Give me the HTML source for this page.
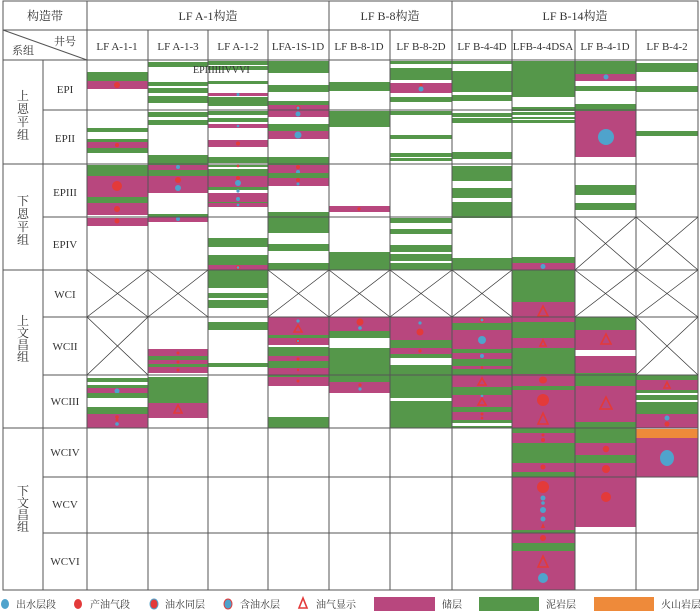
<!DOCTYPE html>
<html><head><meta charset="utf-8"><style>
html,body{margin:0;padding:0;background:#fff;}
svg{display:block;}
.g{fill:#55974a}.m{fill:#b8477e}.o{fill:#ee8a3a}.w{fill:#fff}
.b{fill:#4fa3cc}.r{fill:#e33a3a}
.t{fill:none;stroke:#e33a3a;stroke-width:1.6}
.ring{fill:#4fa3cc;stroke:#e33a3a;stroke-width:1}
.ln{stroke:#555;stroke-width:1;fill:none}
.x{stroke:#333;stroke-width:0.7;fill:none}
text{font-family:"Liberation Serif","Noto Serif CJK SC",serif;fill:#333;}
</style></head><body>
<svg width="700" height="614" viewBox="0 0 700 614" xmlns="http://www.w3.org/2000/svg">
<rect width="700" height="614" fill="#fff"/>

<!-- col1 LFA-1-1 87-148 -->
<g transform="translate(87,0)">
<rect class="g" x="0" y="72" width="61" height="9"/><rect class="m" x="0" y="81" width="61" height="8"/><circle class="r" cx="30" cy="85" r="3"/>
<rect class="g" x="0" y="128" width="61" height="4"/><rect class="g" x="0" y="139" width="61" height="3"/><rect class="m" x="0" y="142" width="61" height="6"/><circle class="r" cx="30" cy="145" r="2"/><rect class="g" x="0" y="148" width="61" height="5"/>
<rect class="g" x="0" y="165" width="61" height="11"/><rect class="m" x="0" y="176" width="61" height="21"/><circle class="r" cx="30" cy="186" r="5"/>
<rect class="g" x="0" y="197" width="61" height="6"/><rect class="m" x="0" y="203" width="61" height="12"/><circle class="r" cx="30" cy="209" r="3"/>
<rect class="m" x="0" y="218" width="61" height="8"/><circle class="r" cx="30" cy="221" r="2.5"/>
<rect class="g" x="0" y="378" width="61" height="4"/><rect class="g" x="0" y="385" width="61" height="3"/><rect class="m" x="0" y="388" width="61" height="5"/><circle class="b" cx="30" cy="391" r="2.5"/><rect class="g" x="0" y="393" width="61" height="5"/>
<rect class="g" x="0" y="407" width="61" height="7"/><rect class="m" x="0" y="414" width="61" height="14"/><circle class="r" cx="30" cy="417" r="1.8"/><circle class="r" cx="30" cy="420" r="1.5"/><circle class="b" cx="30" cy="424" r="1.8"/>
</g>
<!-- col2 LFA-1-3 148-208 -->
<g transform="translate(148,0)">
<rect class="g" x="0" y="62" width="60" height="5"/><rect class="g" x="0" y="82" width="60" height="4"/><rect class="g" x="0" y="88" width="60" height="5"/><rect class="g" x="0" y="96" width="60" height="7"/>
<rect class="g" x="0" y="112" width="60" height="5"/><rect class="g" x="0" y="120" width="60" height="5"/><rect class="g" x="0" y="155" width="60" height="10"/>
<rect class="m" x="0" y="165" width="60" height="5"/><circle class="b" cx="30" cy="167" r="2"/><rect class="g" x="0" y="170" width="60" height="6"/>
<rect class="m" x="0" y="176" width="60" height="17"/><circle class="r" cx="30" cy="180" r="3"/><circle class="b" cx="30" cy="188" r="3"/>
<rect class="g" x="0" y="214" width="60" height="3"/><rect class="m" x="0" y="217" width="60" height="5"/><circle class="b" cx="30" cy="219" r="2"/>
<rect class="m" x="0" y="349" width="60" height="24"/><rect class="g" x="0" y="356" width="60" height="4"/><rect class="g" x="0" y="364" width="60" height="3"/>
<circle class="r" cx="30" cy="353" r="1.5"/><circle class="r" cx="30" cy="362" r="1.5"/><circle class="r" cx="30" cy="370" r="1.5"/>
<rect class="g" x="0" y="377" width="60" height="26"/><rect class="m" x="0" y="403" width="60" height="15"/><polygon class="t" points="30,405 26,413 34,413"/>
</g>
<!-- col3 LFA-1-2 208-268 -->
<g transform="translate(208,0)">
<rect class="g" x="0" y="61" width="60" height="4"/><rect class="g" x="0" y="66" width="60" height="4"/><rect class="g" x="0" y="81" width="60" height="3"/>
<rect class="m" x="0" y="93" width="60" height="3"/><circle class="b" cx="30" cy="94.5" r="1.5"/><rect class="g" x="0" y="97" width="60" height="9"/>
<rect class="g" x="0" y="111" width="60" height="4"/><rect class="g" x="0" y="118" width="60" height="4"/><rect class="m" x="0" y="124" width="60" height="4"/><circle class="b" cx="30" cy="126" r="1.3"/>
<rect class="m" x="0" y="140" width="60" height="7"/><circle class="r" cx="30" cy="143.5" r="2"/><rect class="g" x="0" y="157" width="60" height="6"/>
<rect class="g" x="0" y="165" width="60" height="2"/><circle class="r" cx="30" cy="166" r="1.3"/><rect class="g" x="0" y="169" width="60" height="7"/>
<rect class="m" x="0" y="176" width="60" height="11"/><circle class="r" cx="30" cy="178" r="2"/><circle class="b" cx="30" cy="183" r="3"/><rect class="g" x="0" y="187" width="60" height="3"/>
<rect class="m" x="0" y="193" width="60" height="9"/><circle class="b" cx="30" cy="191" r="1.6"/><circle class="b" cx="30" cy="199" r="2"/><rect class="g" x="0" y="202" width="60" height="1"/>
<rect class="m" x="0" y="203" width="60" height="4"/><circle class="b" cx="30" cy="205" r="1.3"/>
<rect class="g" x="0" y="238" width="60" height="9"/><rect class="g" x="0" y="255" width="60" height="10"/><rect class="m" x="0" y="265" width="60" height="5"/><circle class="ring" cx="30" cy="267.5" r="1.8"/>
<rect class="g" x="0" y="270" width="60" height="18"/><rect class="g" x="0" y="293" width="60" height="5"/><rect class="g" x="0" y="300" width="60" height="8"/><rect class="g" x="0" y="322" width="60" height="8"/><rect class="g" x="0" y="363" width="60" height="4"/>
</g>
<!-- col4 LFA-1S-1D 268-329 -->
<g transform="translate(268,0)">
<rect class="g" x="0" y="61" width="61" height="12"/><rect class="g" x="0" y="85" width="61" height="7"/><rect class="g" x="0" y="101" width="61" height="4"/>
<rect class="m" x="0" y="105" width="61" height="5"/><circle class="ring" cx="30" cy="108" r="2"/>
<rect class="m" x="0" y="110" width="61" height="7"/><circle class="b" cx="30" cy="114" r="2.5"/><rect class="g" x="0" y="124" width="61" height="7"/>
<rect class="m" x="0" y="131" width="61" height="8"/><circle class="b" cx="30" cy="135" r="3.5"/><rect class="g" x="0" y="157" width="61" height="8"/>
<rect class="m" x="0" y="165" width="61" height="8"/><circle class="r" cx="30" cy="167" r="2"/><circle class="b" cx="30" cy="172" r="2"/><rect class="g" x="0" y="173" width="61" height="5"/>
<rect class="m" x="0" y="178" width="61" height="8"/><circle class="r" cx="30" cy="180" r="2"/><circle class="b" cx="30" cy="184" r="1.5"/>
<rect class="g" x="0" y="212" width="61" height="6"/><rect class="g" x="0" y="218" width="61" height="15"/><rect class="g" x="0" y="244" width="61" height="7"/><rect class="g" x="0" y="263" width="61" height="7"/>
<rect class="m" x="0" y="317" width="61" height="18"/><circle class="b" cx="30" cy="321" r="1.6"/><polygon class="t" points="30,325 26,332 34,332"/>
<rect class="g" x="0" y="335" width="61" height="3"/><rect class="m" x="0" y="338" width="61" height="7"/><circle class="ring" cx="30" cy="341" r="1.6"/>
<rect class="g" x="0" y="347" width="61" height="9"/><rect class="m" x="0" y="356" width="61" height="5"/><circle class="r" cx="30" cy="359" r="1.5"/>
<rect class="g" x="0" y="361" width="61" height="7"/><rect class="m" x="0" y="368" width="61" height="9"/><circle class="r" cx="30" cy="370" r="1.2"/>
<rect class="g" x="0" y="375" width="61" height="2"/><rect class="m" x="0" y="377" width="61" height="9"/><circle class="r" cx="30" cy="381" r="1.5"/>
<rect class="g" x="0" y="417" width="61" height="11"/>
</g>
<!-- col5 LFB-8-1D 329-390 -->
<g transform="translate(329,0)">
<rect class="g" x="0" y="82" width="61" height="9"/><rect class="g" x="0" y="111" width="61" height="16"/>
<rect class="m" x="0" y="206" width="61" height="6"/><circle class="r" cx="30" cy="209" r="1.6"/>
<rect class="g" x="0" y="252" width="61" height="18"/>
<rect class="m" x="0" y="317" width="61" height="14"/><circle class="r" cx="31" cy="322" r="3.5"/><circle class="b" cx="31" cy="328" r="1.8"/>
<rect class="g" x="0" y="331" width="61" height="7"/><rect class="g" x="0" y="348" width="61" height="34"/>
<rect class="m" x="0" y="382" width="61" height="11"/><circle class="r" cx="31" cy="385" r="1.6"/><circle class="b" cx="31" cy="389" r="1.6"/>
</g>
<!-- col6 LFB-8-2D 390-452 -->
<g transform="translate(390,0)">
<rect class="g" x="0" y="61" width="62" height="3"/><rect class="g" x="0" y="68" width="62" height="12"/><rect class="m" x="0" y="83" width="62" height="10"/><circle class="r" cx="31" cy="85" r="1.5"/><circle class="b" cx="31" cy="89" r="2.5"/>
<rect class="g" x="0" y="97" width="62" height="5"/>
<rect class="g" x="0" y="111" width="62" height="4"/><rect class="g" x="0" y="135" width="62" height="4"/><rect class="g" x="0" y="153" width="62" height="4"/><rect class="g" x="0" y="158" width="62" height="3"/>
<rect class="g" x="0" y="218" width="62" height="5"/><rect class="g" x="0" y="229" width="62" height="5"/><rect class="g" x="0" y="245" width="62" height="7"/><rect class="g" x="0" y="254" width="62" height="7"/><rect class="g" x="0" y="263" width="62" height="7"/>
<rect class="m" x="0" y="317" width="62" height="23"/><circle class="b" cx="30" cy="323" r="1.6"/><circle class="r" cx="30" cy="332" r="3.5"/>
<rect class="g" x="0" y="340" width="62" height="8"/><rect class="m" x="0" y="348" width="62" height="6"/><circle class="r" cx="30" cy="351" r="1.6"/><rect class="g" x="0" y="354" width="62" height="4"/>
<rect class="g" x="0" y="365" width="62" height="33"/><rect class="g" x="0" y="401" width="62" height="27"/>
</g>
<!-- col7 LFB-4-4D 452-512 -->
<g transform="translate(452,0)">
<rect class="g" x="0" y="61" width="60" height="3"/><rect class="g" x="0" y="71" width="60" height="21"/><rect class="g" x="0" y="95" width="60" height="6"/>
<rect class="g" x="0" y="113" width="60" height="4"/><rect class="g" x="0" y="118" width="60" height="5"/><rect class="g" x="0" y="152" width="60" height="7"/>
<rect class="g" x="0" y="166" width="60" height="15"/><rect class="g" x="0" y="188" width="60" height="10"/><rect class="g" x="0" y="202" width="60" height="16"/>
<rect class="g" x="0" y="258" width="60" height="12"/>
<rect class="m" x="0" y="317" width="60" height="6"/><circle class="ring" cx="30" cy="320" r="2"/><rect class="g" x="0" y="323" width="60" height="7"/>
<rect class="m" x="0" y="330" width="60" height="19"/><circle class="b" cx="30" cy="340" r="4"/><rect class="g" x="0" y="349" width="60" height="4"/>
<rect class="m" x="0" y="353" width="60" height="6"/><circle class="b" cx="30" cy="356" r="2"/><rect class="g" x="0" y="359" width="60" height="7"/>
<rect class="m" x="0" y="366" width="60" height="3"/><circle class="r" cx="30" cy="367.5" r="1.3"/><rect class="g" x="0" y="369" width="60" height="6"/>
<rect class="m" x="0" y="375" width="60" height="12"/><polygon class="t" points="30,378 26,385 34,385"/><rect class="g" x="0" y="387" width="60" height="8"/>
<rect class="m" x="0" y="395" width="60" height="12"/><circle class="b" cx="30" cy="396" r="1.3"/><polygon class="t" points="30,398 26,405 34,405"/><rect class="g" x="0" y="407" width="60" height="5"/>
<rect class="m" x="0" y="412" width="60" height="8"/><circle class="r" cx="30" cy="414" r="1.5"/><circle class="r" cx="30" cy="418" r="1.3"/><rect class="g" x="0" y="420" width="60" height="3"/><rect class="g" x="0" y="426" width="60" height="2"/>
</g>
<!-- col8 LFB-4-4DSA 512-575 -->
<g transform="translate(512,0)">
<rect class="g" x="0" y="61" width="63" height="36"/><rect class="g" x="0" y="107" width="63" height="4"/><rect class="g" x="0" y="112" width="63" height="3"/><rect class="g" x="0" y="117" width="63" height="2"/><rect class="g" x="0" y="120" width="63" height="3"/>
<rect class="g" x="0" y="257" width="63" height="6"/><rect class="m" x="0" y="263" width="63" height="7"/><circle class="b" cx="31" cy="266.5" r="2.5"/>
<rect class="g" x="0" y="270" width="63" height="32"/><rect class="m" x="0" y="302" width="63" height="20"/><polygon class="t" points="31,306 26,316 36,316"/>
<rect class="g" x="0" y="322" width="63" height="16"/><rect class="m" x="0" y="338" width="63" height="10"/><polygon class="t" points="31,340 28,346 34,346"/>
<rect class="g" x="0" y="348" width="63" height="26"/><rect class="m" x="0" y="374" width="63" height="12"/><ellipse class="r" cx="31" cy="380" rx="4" ry="3.5"/>
<rect class="g" x="0" y="386" width="63" height="4"/><rect class="m" x="0" y="390" width="63" height="38"/><circle class="r" cx="31" cy="400" r="6"/><polygon class="t" points="31,413 26,424 36,424"/>
<rect class="g" x="0" y="428" width="63" height="5"/><rect class="m" x="0" y="433" width="63" height="10"/><circle class="r" cx="31" cy="435" r="1.5"/><circle class="r" cx="31" cy="440" r="2"/>
<rect class="g" x="0" y="443" width="63" height="20"/><rect class="m" x="0" y="463" width="63" height="9"/><circle class="r" cx="31" cy="467" r="2.5"/><rect class="g" x="0" y="472" width="63" height="5"/>
<rect class="m" x="0" y="477" width="63" height="53"/><circle class="r" cx="31" cy="487" r="6"/><circle class="b" cx="31" cy="498" r="2.5"/><circle class="b" cx="31" cy="503" r="1.8"/><circle class="b" cx="31" cy="510" r="3"/><circle class="b" cx="31" cy="519" r="2.5"/><polygon class="r" points="31,523 29,528 33,528"/>
<rect class="g" x="0" y="530" width="63" height="3"/><rect class="m" x="0" y="533" width="63" height="10"/><circle class="r" cx="31" cy="538" r="3"/>
<rect class="g" x="0" y="543" width="63" height="8"/><rect class="m" x="0" y="551" width="63" height="39"/><polygon class="t" points="31,556 26,567 36,567"/><circle class="b" cx="31" cy="578" r="5"/>
</g>
<!-- col9 LFB-4-1D 575-636 -->
<g transform="translate(575,0)">
<rect class="g" x="0" y="61" width="61" height="13"/><rect class="m" x="0" y="74" width="61" height="7"/><circle class="b" cx="31" cy="77" r="2.5"/><rect class="g" x="0" y="86" width="61" height="5"/><rect class="g" x="0" y="104" width="61" height="7"/>
<rect class="m" x="0" y="111" width="61" height="46"/><circle class="b" cx="31" cy="137" r="8"/>
<rect class="g" x="0" y="185" width="61" height="10"/><rect class="g" x="0" y="203" width="61" height="7"/>
<rect class="g" x="0" y="317" width="61" height="13"/><rect class="m" x="0" y="330" width="61" height="20"/><polygon class="t" points="31,334 26,344 36,344"/>
<rect class="m" x="0" y="356" width="61" height="17"/><rect class="g" x="0" y="373" width="61" height="13"/><rect class="m" x="0" y="386" width="61" height="36"/><polygon class="t" points="31,397 25,409 37,409"/><rect class="g" x="0" y="422" width="61" height="6"/>
<rect class="g" x="0" y="428" width="61" height="15"/><rect class="m" x="0" y="443" width="61" height="12"/><circle class="r" cx="31" cy="449" r="3.2"/><rect class="g" x="0" y="455" width="61" height="8"/>
<rect class="m" x="0" y="463" width="61" height="14"/><circle class="r" cx="31" cy="469" r="4"/><rect class="m" x="0" y="477" width="61" height="50"/><circle class="r" cx="31" cy="497" r="5"/>
</g>
<!-- col10 LFB-4-2 636-698 -->
<g transform="translate(636,0)">
<rect class="g" x="0" y="63" width="62" height="9"/><rect class="g" x="0" y="86" width="62" height="6"/><rect class="g" x="0" y="131" width="62" height="5"/>
<rect class="g" x="0" y="375" width="62" height="5"/><rect class="m" x="0" y="380" width="62" height="10"/><polygon class="t" points="31,382 28,388 34,388"/><rect class="g" x="0" y="390" width="62" height="3"/><rect class="g" x="0" y="395" width="62" height="5"/>
<rect class="g" x="0" y="402" width="62" height="12"/><rect class="m" x="0" y="414" width="62" height="14"/><circle class="b" cx="31" cy="418" r="2.5"/><circle class="r" cx="31" cy="424" r="2.5"/>
<rect class="o" x="0" y="429" width="62" height="9"/><rect class="m" x="0" y="438" width="62" height="39"/><ellipse class="b" cx="31" cy="458" rx="7" ry="8"/>
</g>

<!-- overlay text -->
<text x="193" y="73" font-size="10">EPIIIIIIVVVI</text>

<!-- X cells -->
<g class="x">
<path d="M87,270L148,317M148,270L87,317M87,317L148,375M148,317L87,375"/>
<path d="M148,270L208,317M208,270L148,317"/>
<path d="M268,270L329,317M329,270L268,317"/>
<path d="M329,270L390,317M390,270L329,317"/>
<path d="M390,270L452,317M452,270L390,317"/>
<path d="M452,270L512,317M512,270L452,317"/>
<path d="M575,217L636,270M636,217L575,270M575,270L636,317M636,270L575,317"/>
<path d="M636,217L698,270M698,217L636,270M636,270L698,317M698,270L636,317M636,317L698,375M698,317L636,375"/>
</g>

<!-- grid -->
<g class="ln">
<rect x="3" y="1" width="695" height="589"/>
<path d="M3,30H698M87,60H698M3,60H87"/>
<path d="M3,164H698M3,270H698M3,428H698"/>
<path d="M43,110H698M43,217H698M43,317H698M43,375H698M43,477H698M43,533H698"/>
<path d="M43,60V590M87,1V590M329,1V590M452,1V590"/>
<path d="M148,30V590M208,30V590M268,30V590M390,30V590M512,30V590M575,30V590M636,30V590"/>
<path d="M3,30L87,60"/>
</g>

<!-- header text -->
<g font-size="12" text-anchor="middle">
<text x="45" y="20">构造带</text>
<text x="208" y="20">LF A-1构造</text>
<text x="390" y="20">LF B-8构造</text>
<text x="575" y="20">LF B-14构造</text>
<text x="65" y="45" font-size="11">井号</text>
<text x="23" y="54" font-size="11">系组</text>
</g>
<g font-size="11" text-anchor="middle">
<text x="117" y="50">LF A-1-1</text>
<text x="178" y="50">LF A-1-3</text>
<text x="238" y="50">LF A-1-2</text>
<text x="298" y="50">LFA-1S-1D</text>
<text x="359" y="50">LF B-8-1D</text>
<text x="421" y="50">LF B-8-2D</text>
<text x="482" y="50">LF B-4-4D</text>
<text x="543" y="50">LFB-4-4DSA</text>
<text x="605" y="50">LF B-4-1D</text>
<text x="667" y="50">LF B-4-2</text>
</g>
<g font-size="11" text-anchor="middle">
<text x="65" y="93">EPI</text>
<text x="65" y="142">EPII</text>
<text x="65" y="196">EPIII</text>
<text x="65" y="248">EPIV</text>
<text x="65" y="298">WCI</text>
<text x="65" y="350">WCII</text>
<text x="65" y="405">WCIII</text>
<text x="65" y="456">WCIV</text>
<text x="65" y="508">WCV</text>
<text x="65" y="565">WCVI</text>
</g>
<g font-size="12" text-anchor="middle" fill="#555">
<text x="23" y="100">上</text><text x="23" y="113">恩</text><text x="23" y="126">平</text><text x="23" y="139">组</text>
<text x="23" y="205">下</text><text x="23" y="218">恩</text><text x="23" y="231">平</text><text x="23" y="244">组</text>
<text x="23" y="325">上</text><text x="23" y="337">文</text><text x="23" y="349">昌</text><text x="23" y="361">组</text>
<text x="23" y="495">下</text><text x="23" y="507">文</text><text x="23" y="519">昌</text><text x="23" y="531">组</text>
</g>

<!-- legend -->
<g font-size="10">
<ellipse class="b" cx="5" cy="604" rx="4" ry="5"/><text x="16" y="608">出水层段</text>
<ellipse class="r" cx="78" cy="604" rx="4" ry="5"/><text x="90" y="608">产油气段</text>
<ellipse class="r" cx="154" cy="604" rx="4" ry="5" stroke="#4fa3cc" stroke-width="1"/><text x="165" y="608">油水同层</text>
<ellipse class="ring" cx="228" cy="604" rx="4" ry="5"/><text x="240" y="608">含油水层</text>
<polygon class="t" points="303,598 299,608 307,608"/><text x="316" y="608">油气显示</text>
<rect class="m" x="374" y="597" width="61" height="14"/><text x="442" y="608">储层</text>
<rect class="g" x="479" y="597" width="60" height="14"/><text x="546" y="608">泥岩层</text>
<rect class="o" x="594" y="597" width="60" height="14"/><text x="661" y="608">火山岩层</text>
</g>
</svg>
</body></html>
